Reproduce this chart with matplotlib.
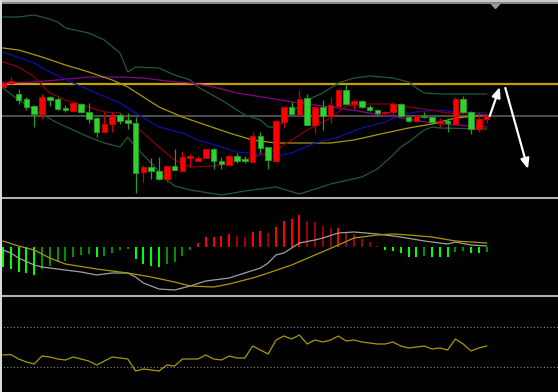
import matplotlib
matplotlib.use("Agg")
import matplotlib.pyplot as plt
import numpy as np
from matplotlib.lines import Line2D
from matplotlib.patches import Polygon

# ---------------- candles (63 bars, price units) ----------------
opens = [113, 117, 106, 101, 94, 86, 103, 101, 92, 89, 96, 88, 82, 68, 76, 85, 80, 77, 28, 33,
         29, 21, 34, 29, 42, 39, 42, 51, 39, 35, 44, 41, 38, 64, 53, 39, 78, 93, 85, 102,
         75, 93, 84, 94, 110, 96, 99, 93, 90, 87, 88, 96, 83, 79, 84, 83, 77, 79, 76, 101,
         88, 71, 81]
highs = [119, 123, 111, 103, 95, 106, 104, 103, 95, 98, 97, 97, 83, 88, 88, 87, 87, 83, 35, 42,
         43, 35, 51, 49, 46, 44, 51, 52, 43, 45, 47, 44, 68, 68, 53, 80, 93, 98, 110, 106,
         93, 100, 103, 110, 116, 100, 100, 95, 91, 89, 98, 97, 84, 85, 88, 84, 82, 82, 103, 104,
         89, 88, 85]
lows = [112, 116, 96, 90, 73, 81, 94, 90, 88, 88, 87, 77, 63, 68, 68, 76, 71, 7, 18, 21,
        20, 18, 30, 29, 33, 39, 42, 31, 31, 35, 37, 37, 38, 47, 31, 39, 72, 86, 85, 75,
        67, 70, 77, 94, 96, 91, 92, 89, 85, 85, 85, 83, 78, 79, 82, 76, 73, 68, 76, 87,
        66, 68, 77]
closes = [117, 119, 100, 93, 86, 103, 100, 91, 90, 97, 88, 81, 68, 76, 84, 79, 77, 27, 33, 29,
          21, 34, 30, 43, 44, 42, 51, 39, 36, 44, 39, 39, 64, 52, 40, 79, 93, 86, 101, 75,
          93, 84, 95, 110, 96, 99, 93, 90, 87, 88, 96, 84, 79, 84, 83, 78, 79, 77, 101, 88,
          71, 81, 84]

# ---------------- overlays on the price window ----------------
bb_upper_idx = [0, 2, 4, 6, 7, 8, 11, 13, 15, 16, 17, 20, 22, 24, 25, 28, 31, 33, 34, 35, 36, 37,
                39, 41, 43, 45, 47, 50, 52, 53, 54, 56, 62]
bb_upper = [183, 183, 185, 181, 178, 172, 167, 160, 147, 128, 133, 132, 125, 120, 113, 100, 85,
            80, 73, 73, 78, 88, 100, 107, 117, 122, 124, 122, 118, 112, 107, 106, 106]
bb_lower_idx = [0, 2, 4, 7, 9, 11, 13, 15, 16, 17, 19, 21, 22, 24, 28, 31, 33, 35, 38, 42, 46, 48,
                50, 51, 52, 54, 55, 56, 62]
bb_lower = [112, 100, 90, 77, 70, 63, 57, 53, 63, 53, 37, 20, 14, 10, 5, 9, 11, 13, 6, 16, 23, 31,
            45, 53, 58, 70, 73, 72, 71]
ma_red_idx = [0, 2, 4, 6, 8, 11, 13, 15, 16, 18, 20, 22, 24, 27, 29, 32, 34, 35, 37, 39, 42, 44,
              47, 50, 52, 54, 57, 62]
ma_red = [138, 133, 123, 107, 100, 93, 88, 87, 80, 67, 53, 40, 33, 34, 37, 43, 47, 50, 60, 70, 82,
          94, 96, 96, 93, 91, 87, 85]
ma_blue_idx = [0, 4, 6, 9, 12, 15, 17, 20, 23, 25, 28, 30, 33, 35, 37, 40, 43, 46, 49, 51, 53, 56,
               58, 62]
ma_blue = [148, 137, 128, 117, 107, 97, 87, 73, 67, 60, 53, 48, 46, 44, 47, 57, 63, 72, 78, 85, 88,
           90, 88, 87]
ma_olive_idx = [0, 2, 5, 8, 11, 14, 16, 18, 20, 23, 26, 29, 32, 35, 42, 45, 49, 52, 55, 58, 62]
ma_olive = [152, 150, 143, 135, 128, 120, 113, 103, 93, 83, 75, 67, 60, 57, 57, 60, 67, 72, 76, 82,
            85]
ma_purple_idx = [0, 4, 7, 11, 15, 18, 21, 24, 27, 30, 34, 38, 43, 47, 51, 55, 58, 62]
ma_purple = [117, 118, 120, 123, 123, 122, 119, 117, 113, 107, 102, 97, 92, 87, 82, 77, 75, 73]

resistance = 116
pivot = 84.5

# hand drawn arrows: (x_start, y_start, x_end, y_end)
arrow_up = (62.4, 84, 63.7, 113)
arrow_down = (64.4, 112, 67.3, 31)

# ---------------- MACD window ----------------
macd_hist = [-2.0, -2.2, -2.5, -2.6, -2.8, -2.2, -1.9, -1.5, -1.4, -1.0, -0.8, -0.7, -1.0, -0.9,
             -0.6, -0.3, -0.2, -1.2, -1.7, -1.9, -2.0, -1.7, -1.5, -0.9, -0.3, 0.4, 1.0, 1.0, 1.1,
             1.3, 1.1, 1.0, 1.5, 1.6, 1.4, 2.0, 2.6, 2.8, 3.2, 2.6, 2.5, 2.1, 1.9, 1.9, 1.5, 1.3,
             0.8, 0.5, 0.1, -0.3, -0.4, -0.6, -1.0, -1.0, -0.9, -1.0, -1.0, -1.0, -0.5, -0.4, -0.6,
             -0.6, -0.5]
macd_gray_idx = [0, 1, 2, 4, 5, 8, 10, 12, 14, 16, 17, 18, 20, 22, 24, 26, 29, 31, 33, 34, 35, 36,
                 38, 40, 41, 43, 45, 48, 51, 54, 57, 58, 60, 62]
macd_gray = [-0.3, -0.6, -1.1, -1.8, -2.0, -2.3, -2.5, -2.8, -2.6, -2.6, -3.0, -3.6, -4.2, -4.3,
             -3.9, -3.4, -3.1, -2.6, -2.1, -1.6, -0.8, -0.6, 0.4, 0.7, 0.9, 1.4, 1.5, 1.3, 1.0,
             0.6, 0.3, 0.5, 0.2, 0.1]
macd_olive_idx = [0, 2, 4, 6, 8, 12, 16, 19, 22, 24, 27, 29, 32, 34, 37, 40, 43, 45, 48, 50, 52,
                  55, 58, 62]
macd_olive = [0.6, 0.1, -0.3, -1.1, -1.7, -2.2, -2.6, -3.0, -3.5, -3.9, -4.0, -3.7, -3.1, -2.6,
              -1.8, -0.8, 0.2, 0.9, 1.2, 1.3, 1.2, 1.0, 0.6, 0.4]

# ---------------- RSI window ----------------
rsi = [42, 42.5, 38, 35, 33, 41, 40, 38, 37, 40, 38, 36, 32, 36, 40, 39, 38, 26, 28, 27, 26, 32,
       31, 38, 38, 38, 42, 38, 37, 41, 39, 39, 51, 47, 43, 57, 61, 58, 62, 53, 57, 55, 57, 61, 56,
       57, 55, 54, 53, 53, 55, 51, 49, 50, 51, 48, 49, 47, 58, 53, 46, 49, 51]
rsi_levels = [70, 30]

# ------------------------------------------------------------------
W, H = 558, 392
fig = plt.figure(figsize=(W / 100, H / 100), dpi=100, facecolor="black")


def px_axes(top, bottom):
    return fig.add_axes([0, 1 - bottom / H, 1, (bottom - top) / H])


xlim = (-3 / 7.8, (W - 3) / 7.8)

ax = px_axes(4, 196)
ax_macd = px_axes(200, 294)
ax_rsi = px_axes(297, 392)
for a in (ax, ax_macd, ax_rsi):
    a.set_facecolor("black")
    a.set_xlim(*xlim)
    a.set_xticks([])
    a.set_yticks([])
    for s in a.spines.values():
        s.set_visible(False)

# price window
ax.set_ylim(4, 196)
ax.axhline(resistance, color="#c8a000", lw=1.6, zorder=1)
ax.axhline(pivot, color="#555555", lw=1.3, zorder=1)

ax.plot(bb_upper_idx, bb_upper, color="#1f5a3c", lw=0.9, zorder=2)
ax.plot(bb_lower_idx, bb_lower, color="#1f5a3c", lw=0.9, zorder=2)
ax.plot(ma_purple_idx, ma_purple, color="#8a008a", lw=0.9, zorder=2)
ax.plot(ma_olive_idx, ma_olive, color="#a89a00", lw=0.9, zorder=2)
ax.plot(ma_blue_idx, ma_blue, color="#1010a8", lw=0.9, zorder=2)
ax.plot(ma_red_idx, ma_red, color="#8b0000", lw=0.9, zorder=2)

x = np.arange(len(closes))
o = np.array(opens, float)
c = np.array(closes, float)
up = c >= o
body_lo = np.minimum(o, c)
body_h = np.maximum(np.abs(c - o), 0.8)
col_fill = np.where(up, "#ff0000", "#33d033")
col_edge = np.where(up, "#d00000", "#22a022")
ax.vlines(x, lows, highs, colors=col_edge, lw=0.9, zorder=3)
ax.bar(x, body_h, bottom=body_lo, width=0.7, color=col_fill, edgecolor=col_edge,
       linewidth=0.6, zorder=4)

for x0, y0, x1, y1 in (arrow_up, arrow_down):
    ax.annotate("", xy=(x1, y1), xytext=(x0, y0),
                arrowprops=dict(arrowstyle="-|>,head_length=0.6,head_width=0.25",
                                color="white", lw=1.6, shrinkA=0, shrinkB=0), zorder=5)

# MACD window
ax_macd.set_ylim(-4.7, 4.7)
h = np.array(macd_hist)
grow = np.abs(h) >= np.abs(np.concatenate([[0], h[:-1]]))
bar_col = np.where(h >= 0, np.where(grow, "#ff0000", "#a00000"),
                   np.where(grow, "#00ff00", "#009000"))
ax_macd.bar(x, h, width=0.27, color=bar_col, zorder=2)
ax_macd.plot(macd_gray_idx, macd_gray, color="#a0a0a0", lw=0.9, zorder=3)
ax_macd.plot(macd_olive_idx, macd_olive, color="#a89a00", lw=0.9, zorder=3)

# RSI window
ax_rsi.set_ylim(5, 100)
for lv in rsi_levels:
    ax_rsi.axhline(lv, color="#8a8a8a", lw=0.8, ls=(0, (1, 2)), zorder=1)
ax_rsi.plot(x, rsi, color="#a89a00", lw=0.9, zorder=2)

# window separators / frame
def hline_px(y, color, lw):
    fig.add_artist(Line2D([0, 1], [1 - y / H, 1 - y / H], transform=fig.transFigure,
                          color=color, lw=lw))


hline_px(0.8, "#d0d0d0", 1.4)
hline_px(2.8, "#8a8a8a", 1.4)
hline_px(198.3, "#b0b0b0", 1.5)
hline_px(295.5, "#b0b0b0", 1.5)
fig.add_artist(Line2D([0.8 / W, 0.8 / W], [0, 1], transform=fig.transFigure,
                      color="#e0e0e0", lw=1.4))

# shift marker at top
tri = [(491 / W, 1 - 3.5 / H), (500 / W, 1 - 3.5 / H), (495.5 / W, 1 - 8.5 / H)]
fig.add_artist(Polygon(tri, closed=True, transform=fig.transFigure, color="#8c9cb4"))

fig.savefig("out.png", dpi=100, facecolor="black")
